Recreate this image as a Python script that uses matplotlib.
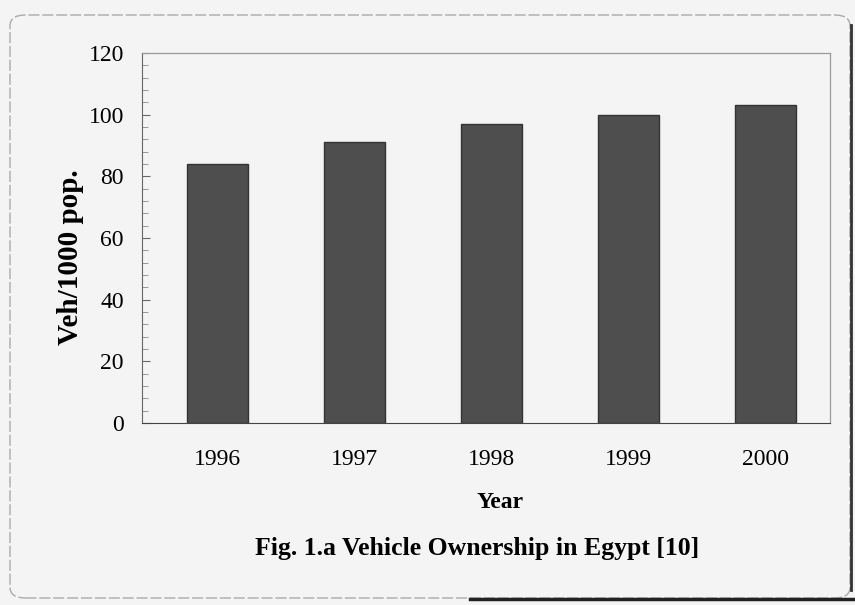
import matplotlib
matplotlib.use("Agg")
import matplotlib.pyplot as plt
from matplotlib.ticker import MultipleLocator
from matplotlib.patches import FancyBboxPatch
from matplotlib.lines import Line2D

years = ["1996", "1997", "1998", "1999", "2000"]
veh_per_1000 = [84, 91, 97, 100, 103]

plt.rcParams['font.family'] = ['Liberation Serif', 'DejaVu Serif']

W, H = 855, 605
fig = plt.figure(figsize=(8.55, 6.05), dpi=100, facecolor='#f4f4f4')
ax = fig.add_axes([142 / W, 1 - 423 / H, 688 / W, 370 / H])
ax.set_facecolor('#f4f4f4')

x = list(range(len(years)))
ax.bar(x, veh_per_1000, width=0.44, color='#4e4e4e', edgecolor='#333333', linewidth=1.0)

ax.set_xlim(-0.55, 4.47)
ax.set_ylim(0, 120)
ax.set_xticks(x)
ax.set_xticklabels(years, fontsize=17)
ax.yaxis.set_major_locator(MultipleLocator(20))
ax.yaxis.set_minor_locator(MultipleLocator(4))
ax.tick_params(axis='y', which='major', direction='in', length=6, labelsize=17, pad=13, color='#666666')
ax.tick_params(axis='y', which='minor', direction='in', length=4, color='#888888')
ax.tick_params(axis='x', length=0, pad=19)

for side in ['top', 'right']:
    ax.spines[side].set_color('#9a9a9a')
    ax.spines[side].set_linewidth(0.9)
ax.spines['left'].set_color('#666666')
ax.spines['bottom'].set_color('#444444')

fig.text(70 / W, 1 - 257 / H, "Veh/1000 pop.", fontsize=21, fontweight='bold',
         rotation=90, ha='center', va='center')
fig.text(500 / W, 1 - 502 / H, "Year", fontsize=17, fontweight='bold',
         ha='center', va='center')
fig.text(477 / W, 1 - 549 / H, "Fig. 1.a Vehicle Ownership in Egypt [10]", fontsize=18.5,
         fontweight='bold', ha='center', va='center')

border = FancyBboxPatch((10 / W, 7 / H), 840 / W, 583 / H,
                        boxstyle="round,pad=0,rounding_size=0.018",
                        transform=fig.transFigure, fill=False, edgecolor='#aaaaaa',
                        linewidth=1.0, linestyle=(0, (8, 2)))
fig.patches.append(border)
fig.lines.append(Line2D([851 / W, 851 / W], [1 - 25 / H, 1 - 590 / H],
                        transform=fig.transFigure, color='#333333', linewidth=2.0))
fig.lines.append(Line2D([470 / W, 1.0], [1 - 599 / H, 1 - 599 / H],
                        transform=fig.transFigure, color='#222222', linewidth=2.5))

fig.savefig("out.png", dpi=100, facecolor=fig.get_facecolor())
